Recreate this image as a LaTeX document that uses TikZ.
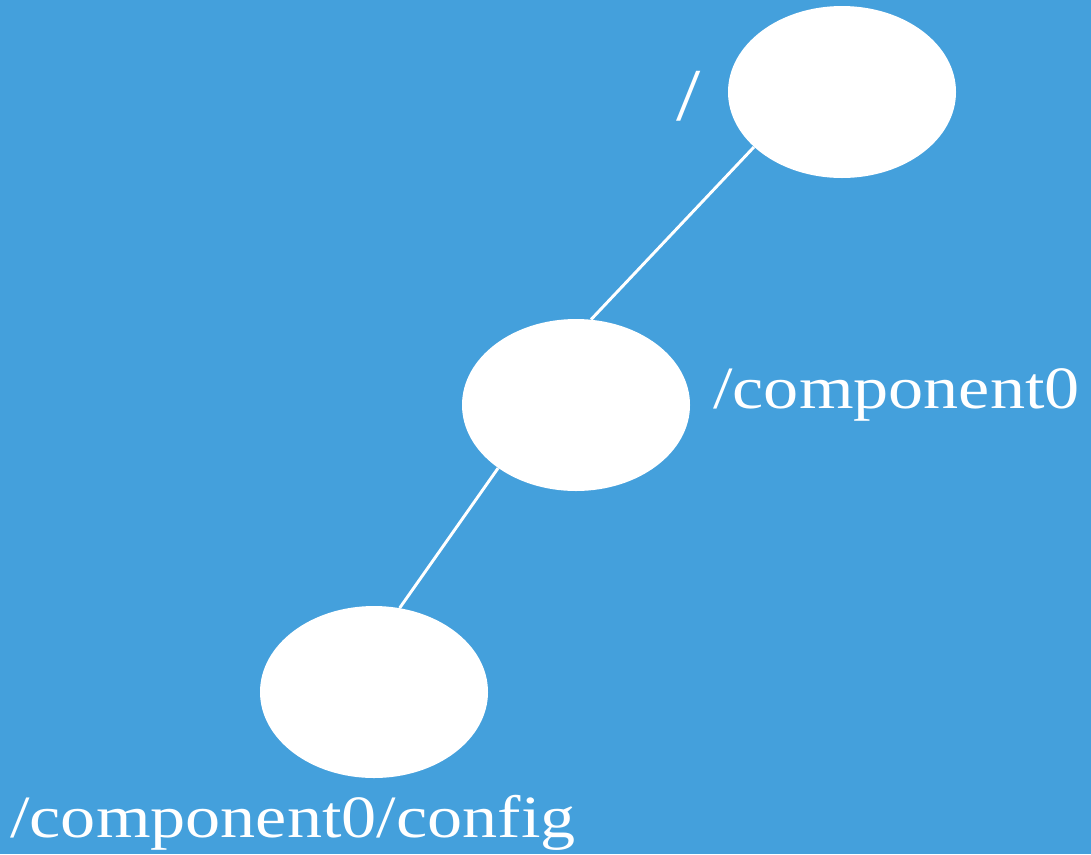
\documentclass[tikz,border=0pt]{standalone}
\usepackage{fontspec}
\setmainfont[FakeStretch=1.17]{Liberation Serif}
\usetikzlibrary{shapes.geometric}
\definecolor{bgblue}{RGB}{68,160,220}
\tikzset{
  treenode/.style={ellipse, fill=white, draw=none, inner sep=0pt,
    minimum width=171pt, minimum height=129pt},
  edge/.style={draw=white, line width=2.2pt},
  pathlabel/.style={text=white, inner sep=0pt, font=\fontsize{45}{54}\selectfont}
}
\begin{document}
\begin{tikzpicture}[x=0.75pt,y=-0.75pt]
  \fill[bgblue] (0,0) rectangle (1091,854);
  \useasboundingbox (0,0) rectangle (1091,854);
  % tree nodes
  \node[treenode] (root) at (842,92) {};
  \node[treenode] (comp) at (576,405) {};
  \node[treenode] (conf) at (374,692) {};
  % edges
  \draw[edge] (root.212.8) -- (comp.80.8);
  \draw[edge] (comp.219) -- (conf.73.9);
  % path labels
  \node[pathlabel, anchor=base west, font=\fontsize{56}{66}\selectfont] (lroot) at (676,120) {/};
  \node[pathlabel, anchor=base west] (lcomp) at (713,408) {/component0};
  \node[pathlabel, anchor=base west] (lconf) at (10,837) {/component0/config};
\end{tikzpicture}
\end{document}
